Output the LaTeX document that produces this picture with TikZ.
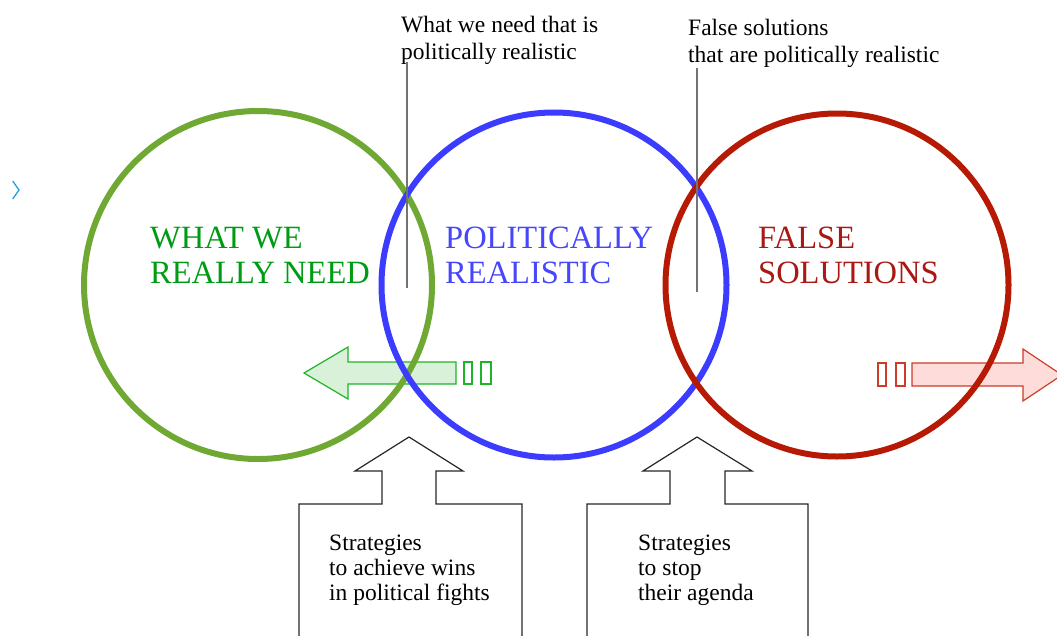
\documentclass[tikz,border=0pt]{standalone}
\usepackage{fontspec}
\setmainfont{Liberation Serif}
\definecolor{cgreen}{RGB}{112,168,52}
\definecolor{tgreen}{RGB}{0,155,20}
\definecolor{cblue}{RGB}{60,60,255}
\definecolor{tblue}{RGB}{70,70,250}
\definecolor{cred}{RGB}{182,26,4}
\definecolor{tred}{RGB}{170,24,20}
\definecolor{agreen}{RGB}{30,180,40}
\definecolor{fgreen}{RGB}{216,241,216}
\definecolor{ared}{RGB}{205,60,40}
\definecolor{fred}{RGB}{253,220,218}
\definecolor{chev}{RGB}{30,160,230}
\begin{document}
\begin{tikzpicture}[x=1pt,y=-1pt,
  ring/.style={circle,draw,line width=6pt,inner sep=0pt,outer sep=0pt},
  big/.style={anchor=base west,align=left,inner sep=0pt,font=\fontsize{32.5}{35}\selectfont},
  small/.style={anchor=base west,align=left,inner sep=0pt,font=\fontsize{23.5}{27}\selectfont},
  boxtext/.style={anchor=base west,align=left,inner sep=0pt,font=\fontsize{23.5}{25}\selectfont},
  guide/.style={draw=black!55,line width=1.4pt},
  callout/.style={draw=black!85,line width=1.2pt},
  garrow/.style={draw=agreen,fill=fgreen,line width=1.2pt},
  rarrow/.style={draw=ared,fill=fred,line width=1.2pt}]
\useasboundingbox (0,0) rectangle (1057,635);

% arrows (behind circles)
\path[garrow] (304,373) -- (348,347) -- (348,362) -- (456,362) -- (456,384) -- (348,384) -- (348,399) -- cycle;
\path[garrow,fill=none] (464,362) rectangle (472,384);
\path[garrow,fill=none] (481,362) rectangle (491,384);
\path[rarrow] (912,363) -- (1023,363) -- (1023,349) -- (1062,375) -- (1023,401) -- (1023,386) -- (912,386) -- cycle;
\path[rarrow,fill=none] (878,363) rectangle (886,386);
\path[rarrow,fill=none] (896,363) rectangle (905,386);

% circles
\node[ring,draw=cgreen,minimum size=348pt] (G) at (258,285) {};
\node[ring,draw=cblue,minimum size=345pt] (B) at (554,285) {};
\node[ring,draw=cred,minimum size=343pt] (R) at (837,285) {};

% circle labels
\node[big,text=tgreen] (tG) at (150,283.5) {WHAT WE\\REALLY NEED};
\node[big,text=tblue] (tB) at (445,283.5) {POLITICALLY\\REALISTIC};
\node[big,text=tred] (tR) at (758,283.5) {FALSE\\SOLUTIONS};

% top labels and guide lines
\node[small] (L1) at (401,59) {What we need that is\\politically realistic};
\node[small] (L2) at (688,62) {False solutions\\that are politically realistic};
\coordinate (g1a) at (407,62);
\coordinate (g1b) at (407,288);
\coordinate (g2a) at (697,68);
\coordinate (g2b) at (697,292);
\draw[guide] (g1a) -- (g1b);
\draw[guide] (g2a) -- (g2b);

% callouts
\draw[callout] (299,645) -- (299,504) -- (382,504) -- (382,471) -- (355,471) -- (409,437) -- (463,471) -- (436,471) -- (436,504) -- (522,504) -- (522,645);
\draw[callout] (587,645) -- (587,504) -- (670,504) -- (670,471) -- (643,471) -- (697,437) -- (752,471) -- (725,471) -- (725,504) -- (808,504) -- (808,645);
\node[boxtext] (S1) at (329,600) {Strategies\\to achieve wins\\in political fights};
\node[boxtext] (S2) at (638,600) {Strategies\\to stop\\their agenda};

% chevron
\coordinate (c1) at (12.7,181);
\coordinate (c2) at (19,190);
\coordinate (c3) at (12.7,199);
\draw[chev,line width=1.3pt] (c1) -- (c2) -- (c3);
\end{tikzpicture}
\end{document}
